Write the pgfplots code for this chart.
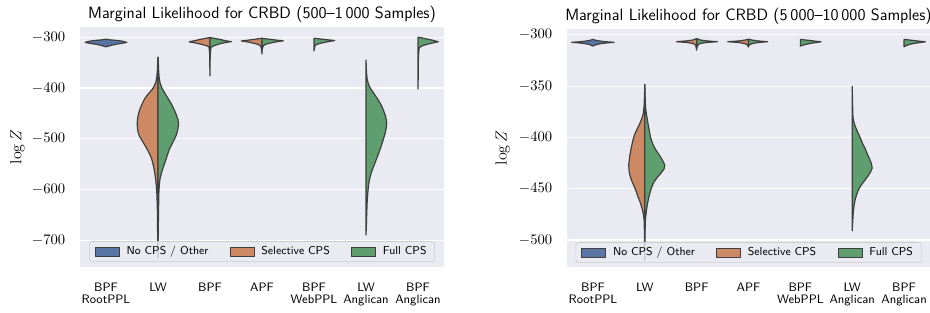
\documentclass[border=0pt]{standalone}
\usepackage{fontspec}
\usepackage{pgfplots}
\usepackage{pgfplotstable}
\pgfplotsset{compat=1.18}
\definecolor{bgc}{HTML}{EAEAF2}
\definecolor{cB}{HTML}{5875A4}
\definecolor{cO}{HTML}{CC8963}
\definecolor{cG}{HTML}{5F9E6E}
\definecolor{edgec}{HTML}{3F3F3F}
\definecolor{lgc}{HTML}{CCCCCC}

% ---------- left panel (500-1000 samples) ----------
\pgfplotstableread{
v w
-304 0
-305.5 0.1
-306.5 0.22
-308 0.32
-310.2 0.40
-312 0.32
-313.5 0.22
-315.5 0.12
-317.5 0.05
-319 0
-317.5 -0.05
-315.5 -0.12
-313.5 -0.22
-312 -0.32
-310.2 -0.40
-308 -0.32
-306.5 -0.22
-305.5 -0.1
-304 0
}\LRoot
\pgfplotstableread{
v w
-339 0
-350 0.006
-365 0.012
-378 0.022
-388 0.04
-398 0.08
-405 0.13
-412 0.19
-420 0.25
-430 0.30
-442 0.35
-455 0.385
-468 0.40
-480 0.395
-490 0.375
-498 0.34
-506 0.29
-514 0.245
-522 0.2
-530 0.16
-540 0.12
-552 0.09
-565 0.065
-580 0.045
-595 0.03
-612 0.02
-640 0.012
-680 0.008
-735 0
-339 0
}\LLWo
\pgfplotstableread{
v w
-339 0
-350 0.006
-365 0.012
-378 0.02
-390 0.04
-400 0.075
-410 0.13
-420 0.19
-430 0.25
-440 0.30
-452 0.35
-462 0.385
-470 0.395
-480 0.385
-490 0.36
-500 0.32
-510 0.27
-520 0.22
-532 0.18
-545 0.14
-556 0.10
-566 0.07
-578 0.04
-590 0.025
-610 0.015
-650 0.01
-705 0
-339 0
}\LLWg
\pgfplotstableread{
v w
-300.8 0
-302.5 0.1
-304.7 0.2
-307 0.3
-309.2 0.40
-311 0.3
-313.2 0.2
-315.5 0.11
-317.5 0.05
-319 0.02
-330 0.008
-350 0.005
-376 0
-300.8 0
}\LBPFo
\pgfplotstableread{
v w
-300.8 0
-302.5 0.1
-304.7 0.2
-307 0.3
-308.8 0.41
-310.5 0.3
-312.8 0.2
-315.5 0.11
-318 0.05
-320 0.02
-330 0.008
-345 0
-300.8 0
}\LBPFg
\pgfplotstableread{
v w
-302 0
-303.5 0.1
-305 0.2
-306.3 0.3
-307.5 0.40
-309 0.3
-311 0.2
-313.5 0.1
-316 0.04
-320 0.015
-333 0
-302 0
}\LAPFo
\pgfplotstableread{
v w
-302 0
-303.5 0.1
-305 0.21
-306.2 0.31
-307.2 0.41
-308.7 0.3
-310.7 0.2
-313 0.1
-315.5 0.04
-319 0.015
-326 0
-302 0
}\LAPFg
\pgfplotstableread{
v w
-302 0
-303.2 0.1
-304.5 0.2
-305.6 0.3
-306.6 0.40
-308.3 0.3
-310.3 0.2
-312.5 0.11
-314.5 0.05
-316.5 0.02
-327 0
-302 0
}\LWeb
\pgfplotstableread{
v w
-344 0
-360 0.006
-372 0.012
-382 0.022
-390 0.04
-398 0.07
-406 0.12
-415 0.18
-425 0.245
-435 0.3
-445 0.34
-455 0.375
-467 0.398
-478 0.39
-490 0.365
-502 0.33
-515 0.29
-528 0.245
-540 0.2
-552 0.155
-564 0.11
-576 0.075
-590 0.05
-605 0.035
-625 0.022
-650 0.013
-670 0.007
-689 0
-344 0
}\LLWA
\pgfplotstableread{
v w
-300 0
-302 0.1
-304.2 0.2
-306.5 0.3
-309 0.39
-311 0.3
-313.3 0.2
-316 0.11
-318.5 0.05
-322 0.02
-340 0.008
-370 0.005
-402 0
-300 0
}\LBPFA

% ---------- right panel (5000-10000 samples) ----------
\pgfplotstableread{
v w
-304.5 0
-305.5 0.06
-306.3 0.16
-306.9 0.28
-307.4 0.41
-307.9 0.28
-308.6 0.16
-309.5 0.07
-310.3 0.03
-311 0
-310.3 -0.03
-309.5 -0.07
-308.6 -0.16
-307.9 -0.28
-307.4 -0.41
-306.9 -0.28
-306.3 -0.16
-305.5 -0.06
-304.5 0
}\RRoot
\pgfplotstableread{
v w
-348 0
-360 0.006
-370 0.014
-377 0.03
-382 0.06
-387 0.1
-392 0.15
-397 0.195
-403 0.23
-410 0.26
-418 0.29
-427 0.31
-434 0.3
-440 0.27
-446 0.22
-452 0.17
-458 0.13
-463 0.09
-468 0.06
-474 0.03
-481 0.012
-495 0.006
-520 0
-348 0
}\RLWo
\pgfplotstableread{
v w
-348 0
-360 0.006
-370 0.014
-377 0.03
-386 0.06
-393 0.085
-400 0.11
-406 0.15
-412 0.21
-418 0.29
-423 0.35
-427 0.385
-431 0.37
-435 0.31
-439 0.24
-444 0.17
-449 0.13
-454 0.1
-459 0.075
-465 0.05
-472 0.03
-480 0.012
-490 0.006
-502 0
-348 0
}\RLWg
\pgfplotstableread{
v w
-303.8 0
-305.2 0.08
-306 0.2
-306.8 0.39
-307.5 0.2
-308.3 0.09
-309.3 0.035
-311 0.015
-315 0
-303.8 0
}\RBPFo
\pgfplotstableread{
v w
-303.8 0
-305.2 0.08
-306 0.2
-306.8 0.40
-307.5 0.2
-308.3 0.09
-309.3 0.035
-311 0.015
-313 0
-303.8 0
}\RBPFg
\pgfplotstableread{
v w
-304.2 0
-305.2 0.07
-306 0.18
-306.8 0.40
-307.6 0.18
-308.5 0.08
-309.5 0.03
-312 0
-304.2 0
}\RAPFo
\pgfplotstableread{
v w
-304.2 0
-305.2 0.07
-306 0.18
-306.8 0.37
-307.6 0.18
-308.5 0.08
-309.5 0.03
-311 0
-304.2 0
}\RAPFg
\pgfplotstableread{
v w
-304.5 0
-305.1 0.1
-305.7 0.2
-306.3 0.3
-306.9 0.40
-307.6 0.3
-308.4 0.2
-309.3 0.11
-310.2 0.05
-311 0
-304.5 0
}\RWeb
\pgfplotstableread{
v w
-350 0
-365 0.006
-378 0.012
-383 0.02
-388 0.05
-392 0.08
-396 0.115
-401 0.16
-406 0.2
-411 0.25
-416 0.29
-421 0.335
-425.5 0.37
-430 0.385
-434 0.35
-438 0.3
-442 0.24
-446 0.18
-450 0.13
-455 0.09
-460 0.06
-465 0.04
-472 0.022
-480 0.012
-491 0
-350 0
}\RLWA
\pgfplotstableread{
v w
-304.5 0
-305.1 0.1
-305.7 0.2
-306.3 0.3
-306.9 0.41
-307.6 0.3
-308.4 0.2
-309.3 0.11
-310.3 0.05
-311.7 0
-304.5 0
}\RBPFA

\newcommand{\vhalf}[4]{%
  \addplot[forget plot, draw=edgec, fill=#1, line width=0.9pt, line join=round]
    table[x expr={#2+(#3)*\thisrow{w}}, y=v] {#4};}

\pgfplotsset{
  patchleg/.style={draw=edgec, line width=0.8pt,
    legend image code/.code={\draw[##1, fill opacity=1, sharp corners, line join=miter] (0pt,-3.4pt) rectangle (18pt,3.4pt);}},
  violinax/.style={
    scale only axis,
    anchor=south west,
    xmin=-0.5, xmax=6.5,
    axis background/.style={fill=bgc},
    axis line style={draw=none},
    tick style={draw=none},
    ymajorgrids,
    grid style={white, line width=0.8pt},
    xtick={0,1,2,3,4,5,6},
    xticklabels={{BPF\\RootPPL},{LW},{BPF},{APF},{BPF\\WebPPL},{LW\\Anglican},{BPF\\Anglican}},
    xticklabel style={align=center, anchor=north, yshift=-8.6pt,
      font=\sffamily\fontsize{9.2}{8.8}\selectfont},
    yticklabel style={font=\fontsize{11.3}{13}\selectfont, xshift=-7.6pt},
    every axis title/.style={at={(axis description cs:0.5,1)}, anchor=base, yshift=6.5pt,
      font=\sffamily\fontsize{12.3}{14}\selectfont},
    legend columns=3,
    legend cell align=left,
    legend style={anchor=south, fill=bgc, fill opacity=0.8, text opacity=1,
      draw=lgc, draw opacity=1, rounded corners=2pt,
      font=\sffamily\fontsize{8.6}{10}\selectfont, inner xsep=4pt, inner ysep=1.6pt,
      /tikz/every odd column/.append style={column sep=3pt},
      /tikz/every even column/.append style={column sep=14pt}},
  }
}

\begin{document}
\begin{tikzpicture}
\useasboundingbox (0,0) rectangle (697.5pt,234pt);
\begin{axis}[violinax, at={(60pt,33.75pt)}, width=273pt, height=180pt,
  ymin=-752, ymax=-280, ytick={-700,-600,-500,-400,-300},
  title={Marginal Likelihood for CRBD (500--1\,000 Samples)},
  every axis y label/.style={at={(axis description cs:-0.172,0.5)}, rotate=90, anchor=center,
    font=\fontsize{12}{14}\selectfont},
  ylabel={$\log Z$},
  legend style={at={(0.5,0.021)}}]
\addlegendimage{patchleg, fill=cB}\addlegendentry{No CPS / Other}
\addlegendimage{patchleg, fill=cO}\addlegendentry{Selective CPS}
\addlegendimage{patchleg, fill=cG}\addlegendentry{Full CPS}
\vhalf{cB}{0}{1}{\LRoot}
\vhalf{cO}{1}{-1}{\LLWo}
\vhalf{cG}{1}{1}{\LLWg}
\vhalf{cO}{2}{-1}{\LBPFo}
\vhalf{cG}{2}{1}{\LBPFg}
\vhalf{cO}{3}{-1}{\LAPFo}
\vhalf{cG}{3}{1}{\LAPFg}
\vhalf{cG}{4}{1}{\LWeb}
\vhalf{cG}{5}{1}{\LLWA}
\vhalf{cG}{6}{1}{\LBPFA}
\end{axis}
\begin{axis}[violinax, at={(425.25pt,33.75pt)}, width=272.25pt, height=178.5pt,
  ymin=-526.3, ymax=-294.4, ytick={-500,-450,-400,-350,-300},
  title={Marginal Likelihood for CRBD (5\,000--10\,000 Samples)},
  every axis y label/.style={at={(axis description cs:-0.177,0.5)}, rotate=90, anchor=center,
    font=\fontsize{12}{14}\selectfont},
  ylabel={$\log Z$},
  legend style={at={(0.5,0.017)}}]
\addlegendimage{patchleg, fill=cB}\addlegendentry{No CPS / Other}
\addlegendimage{patchleg, fill=cO}\addlegendentry{Selective CPS}
\addlegendimage{patchleg, fill=cG}\addlegendentry{Full CPS}
\vhalf{cB}{0}{1}{\RRoot}
\vhalf{cO}{1}{-1}{\RLWo}
\vhalf{cG}{1}{1}{\RLWg}
\vhalf{cO}{2}{-1}{\RBPFo}
\vhalf{cG}{2}{1}{\RBPFg}
\vhalf{cO}{3}{-1}{\RAPFo}
\vhalf{cG}{3}{1}{\RAPFg}
\vhalf{cG}{4}{1}{\RWeb}
\vhalf{cG}{5}{1}{\RLWA}
\vhalf{cG}{6}{1}{\RBPFA}
\end{axis}
\end{tikzpicture}
\end{document}
